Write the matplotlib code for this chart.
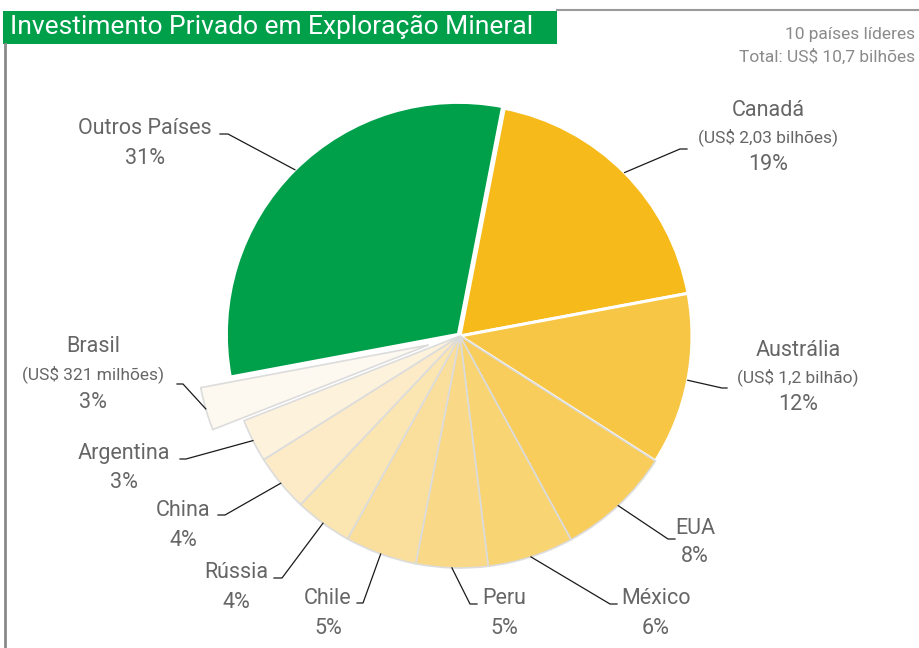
import numpy as np
import matplotlib
matplotlib.use('Agg')
import matplotlib.pyplot as plt
from matplotlib.patches import Rectangle

plt.rcParams['font.family'] = ['Roboto', 'DejaVu Sans']

# data (clockwise from the top)
countries = ['Canadá', 'Austrália', 'EUA', 'México', 'Peru', 'Chile',
             'Rússia', 'China', 'Argentina', 'Brasil', 'Outros Países']
shares = [19, 12, 8, 6, 5, 5, 4, 4, 3, 3, 31]
values = ['(US$ 2,03 bilhões)', '(US$ 1,2 bilhão)', '', '', '', '',
          '', '', '', '(US$ 321 milhões)', '']
colors = ['#F6BA1A', '#F8C645', '#F8CD5C', '#F8D472', '#F9D987', '#FADF9C',
          '#FBE5B0', '#FCEBC6', '#FDF2DC', '#FDF9F0', '#00A04B']
explode = [0, 0, 0, 0, 0, 0, 0, 0, 0, 0.14, 0.01]

title = 'Investimento Privado em Exploração Mineral'
note = ['10 países líderes', 'Total: US$ 10,7 bilhões']

W, H = 920, 648
def Y(y):
    return H - y

fig = plt.figure(figsize=(9.2, 6.48), dpi=100)
ax = fig.add_axes([0, 0, 1, 1])

cx, cy, R = 460, 336, 232
start = 79
wedges, _ = ax.pie(shares, colors=colors, explode=[e * R for e in explode],
                   startangle=start, counterclock=False, radius=R,
                   center=(cx, Y(cy)), frame=True)
ax.set_xlim(0, W)
ax.set_ylim(0, H)
ax.set_aspect('auto')
ax.axis('off')
for i, w in enumerate(wedges):
    if i in (0, 1, 10):
        w.set_edgecolor('white')
        w.set_linewidth(2.2)
    else:
        w.set_edgecolor('#dcdcdc')
        w.set_linewidth(1.2)

# label layout: text centre x, line y's, elbow (x, y), end x  (image pixels)
layout = [
    (768, [110, 137, 165], (680, 149), 687),
    (798, [350, 377, 405], (722, 388), 727),
    (695, [528, 557], (668, 539), 675),
    (656, [598, 628], (610, 604), 617),
    (504, [598, 628], (470, 604), 477),
    (328, [598, 628], (363, 603), 357),
    (236, [572, 602], (282, 578), 274),
    (183, [510, 540], (225, 515), 218),
    (124, [453, 483], (186, 459), 180),
    (93, [347, 374, 403], (183, 384), 177),
    (145, [128, 158], (228, 134), 220),
]

txt_col = '#666666'
cum = 0
for i, (name, s) in enumerate(zip(countries, shares)):
    mid = np.deg2rad(start - (cum + s / 2) * 3.6)
    cum += s
    r = R * (1 + explode[i])
    ax0 = cx + r * np.cos(mid)
    ay0 = Y(cy) + r * np.sin(mid)
    tx, ys, (ex, ey), endx = layout[i]
    ax.plot([ax0, ex, endx], [ay0, Y(ey), Y(ey)], color='#1a1a1a', lw=0.9)
    lines = [name]
    if values[i]:
        lines.append(values[i])
    lines.append(f'{s}%')
    for t, yy in zip(lines, ys):
        fs = 12.5 if t.startswith('(') else 15.5
        ax.text(tx, Y(yy), t, ha='center', va='center', fontsize=fs,
                color=txt_col)

# frame and title
ax.plot([557, W], [Y(10), Y(10)], color='#9a9a9a', lw=1.5)
ax.plot([5, 5], [Y(44), 0], color='#8a8a8a', lw=2)
ax.add_patch(Rectangle((3, Y(44)), 554, 33, color='#00A04B', lw=0))
ax.text(10, Y(27), title, ha='left', va='center', fontsize=19, color='white')
ax.text(915, Y(34), note[0], ha='right', va='center', fontsize=12.5,
        color='#8a8a8a')
ax.text(915, Y(57), note[1], ha='right', va='center', fontsize=12.5,
        color='#8a8a8a')

fig.savefig('out.png', dpi=100)
